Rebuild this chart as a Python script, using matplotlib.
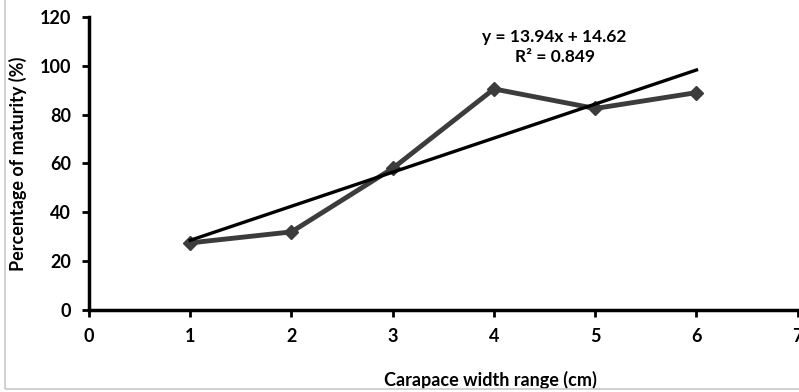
import matplotlib
matplotlib.use("Agg")
import matplotlib.pyplot as plt
from matplotlib.patches import Rectangle
import numpy as np

# data
width_class = [1, 2, 3, 4, 5, 6]
maturity_pct = [27.5, 32.0, 58.0, 90.5, 82.5, 89.0]
slope, intercept = 13.94, 14.62
r_squared = 0.849
x_ticks = [0, 1, 2, 3, 4, 5, 6, 7]
y_ticks = [0, 20, 40, 60, 80, 100, 120]

plt.rcParams['font.family'] = ['Lato', 'DejaVu Sans']
plt.rcParams['font.weight'] = 'bold'

fig = plt.figure(figsize=(7.99, 3.92), dpi=100)
ax = fig.add_axes([0.1114, 0.209, 0.887, 0.748])

# light frame around the figure like the source image
fig.patches.append(Rectangle((0.006, 0.008), 1.2, 1.2, transform=fig.transFigure,
                             fill=False, edgecolor='#c8c8c8', lw=1.2))

ax.plot(width_class, maturity_pct, color='#3c3c3c', lw=3.5, marker='D',
        markersize=7.5, markerfacecolor='#3c3c3c', markeredgecolor='#3c3c3c', zorder=3)

trend_x = np.array([width_class[0], width_class[-1]])
ax.plot(trend_x, slope * trend_x + intercept, color='black', lw=2.4, zorder=4)

ax.text(0.657, 0.932, 'y = %.2fx + %.2f' % (slope, intercept), transform=ax.transAxes,
        ha='center', va='center', fontsize=12.5, fontweight='bold')
ax.text(0.657, 0.862, 'R\u00b2 = %.3f' % r_squared, transform=ax.transAxes,
        ha='center', va='center', fontsize=12.5, fontweight='bold')

ax.set_xlim(0, 7)
ax.set_ylim(0, 120)
ax.set_xticks(x_ticks)
ax.set_yticks(y_ticks)
ax.tick_params(direction='out', length=5, width=2, labelsize=13, pad=8)
for lab in ax.get_xticklabels() + ax.get_yticklabels():
    lab.set_fontweight('bold')

for side in ['top', 'right']:
    ax.spines[side].set_visible(False)
for side in ['left', 'bottom']:
    ax.spines[side].set_linewidth(2.5)

ax.set_xlabel('Carapace width range (cm)', fontsize=13, fontweight='bold', va='center')
ax.set_ylabel('Percentage of maturity (%)', fontsize=13, fontweight='bold', va='center')
ax.xaxis.set_label_coords(0.566, -0.239)
ax.yaxis.set_label_coords(-0.1, 0.5)

fig.savefig('out.png', dpi=100)
